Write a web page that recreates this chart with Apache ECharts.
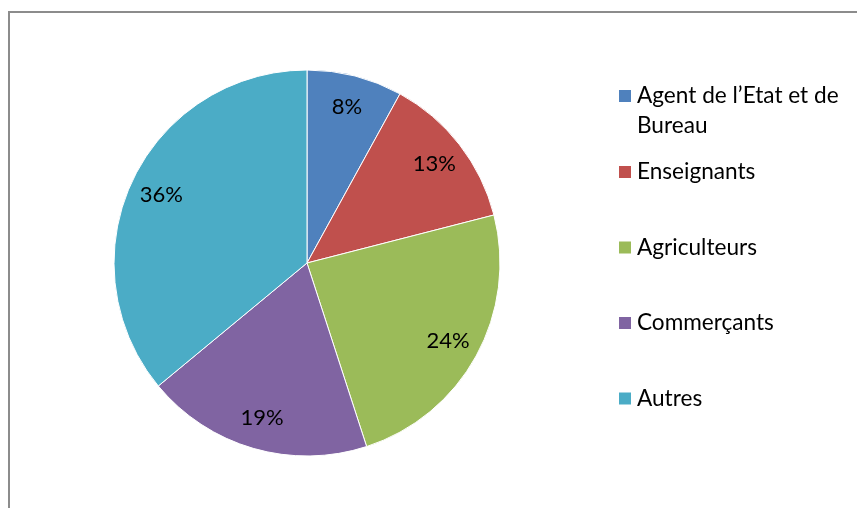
<!DOCTYPE html>
<html>
<head>
<meta charset="utf-8">
<script src="https://cdn.jsdelivr.net/npm/echarts@6/dist/echarts.min.js"></script>
<style>
  html, body { margin: 0; padding: 0; background: #fff; overflow: hidden; }
  #chart { width: 857px; height: 508px; }
</style>
</head>
<body>
<div id="chart"></div>
<script>
// répartition des catégories (en %)
const categories = ['Agent de l\u2019Etat et de\nBureau', 'Enseignants', 'Agriculteurs', 'Commerçants', 'Autres'];
const values = [8, 13, 24, 19, 36];
const colors = ['#4F81BD', '#C0504D', '#9BBB59', '#8064A2', '#4BACC6'];

const font = 'Lato, "Open Sans", sans-serif';
const data = categories.map((name, i) => ({ name, value: values[i] }));

const chart = echarts.init(document.getElementById('chart'));
chart.setOption({
  animation: false,
  color: colors,
  graphic: [{
    type: 'rect',
    silent: true,
    shape: { x: 9, y: 12, width: 900, height: 600 },
    style: { fill: 'none', stroke: '#8c8c8c', lineWidth: 2 }
  }],
  legend: [
    {
      // ligne vide en tête : l'icône reste alignée sur la première ligne
      data: [categories[0]],
      formatter: name => '\n' + name,
      orient: 'vertical',
      left: 617, top: 51, padding: 0,
      icon: 'rect', itemWidth: 14, itemHeight: 14,
      textStyle: { fontFamily: font, fontSize: 22.6, lineHeight: 30, color: '#000' }
    },
    {
      data: categories.slice(1),
      orient: 'vertical',
      left: 617, top: 157, padding: 0,
      itemGap: 45.5,
      icon: 'rect', itemWidth: 14, itemHeight: 14,
      textStyle: { fontFamily: font, fontSize: 22.6, lineHeight: 30, color: '#000' }
    }
  ],
  series: [
    {
      type: 'pie',
      center: [307, 263],
      radius: 193,
      startAngle: 90,
      clockwise: true,
      label: { show: false },
      labelLine: { show: false },
      itemStyle: { borderColor: '#fff', borderWidth: 1 },
      emphasis: { disabled: true },
      data: data
    },
    {
      // couche transparente pour placer les étiquettes
      type: 'pie',
      center: [307, 263],
      radius: [123, 193],
      startAngle: 90,
      clockwise: true,
      silent: true,
      itemStyle: { color: 'rgba(0,0,0,0)' },
      label: {
        show: true, position: 'inside', formatter: '{c}%',
        fontFamily: font, fontSize: 22, color: '#000'
      },
      labelLine: { show: false },
      emphasis: { disabled: true },
      data: data
    }
  ]
});
</script>
</body>
</html>
